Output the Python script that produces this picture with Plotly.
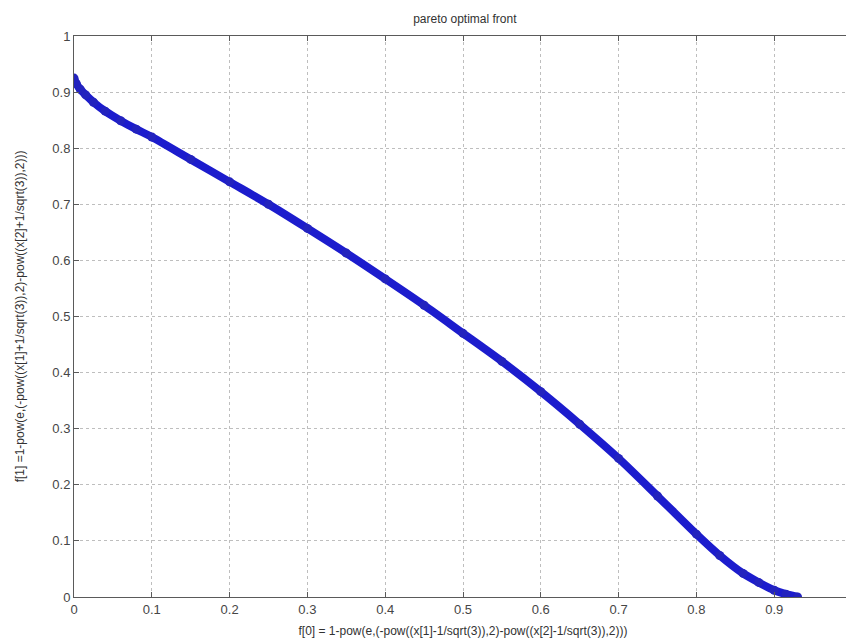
import plotly.graph_objects as go

f0 = [0.0, 0.003, 0.008, 0.015, 0.025, 0.04, 0.06, 0.08, 0.1, 0.15, 0.2, 0.25, 0.3, 0.35,
      0.4, 0.45, 0.5, 0.55, 0.6, 0.65, 0.7, 0.75, 0.8, 0.83, 0.86, 0.88, 0.9, 0.915, 0.93]
f1 = [0.925, 0.915, 0.905, 0.895, 0.882, 0.866, 0.849, 0.834, 0.82, 0.78, 0.74, 0.70, 0.657, 0.613,
      0.567, 0.52, 0.47, 0.42, 0.366, 0.308, 0.247, 0.18, 0.112, 0.074, 0.042, 0.026, 0.012, 0.005, 0.0]

title_text = "pareto optimal front"
xlabel = "f[0] = 1-pow(e,(-pow((x[1]-1/sqrt(3)),2)-pow((x[2]-1/sqrt(3)),2)))"
ylabel = "f[1] =1-pow(e,(-pow((x[1]+1/sqrt(3)),2)-pow((x[2]+1/sqrt(3)),2)))"
ticks = [0, 0.1, 0.2, 0.3, 0.4, 0.5, 0.6, 0.7, 0.8, 0.9, 1]
tick_labels = ["0", "0.1", "0.2", "0.3", "0.4", "0.5", "0.6", "0.7", "0.8", "0.9", "1"]

fig = go.Figure()
fig.add_trace(go.Scatter(
    x=f0, y=f1, mode="lines+markers",
    line=dict(color="rgb(28,28,205)", width=8, shape="spline", smoothing=0.8),
    marker=dict(color="rgb(35,35,190)", size=9),
    showlegend=False,
))

font = "Liberation Sans, Arial, sans-serif"
axis_common = dict(
    range=[0, 1], tickvals=ticks, ticktext=tick_labels, automargin=False,
    showgrid=True, gridcolor="rgb(190,190,190)", griddash="dot", gridwidth=1,
    showline=True, linecolor="rgb(90,90,90)", linewidth=1, mirror="ticks",
    ticks="inside", ticklen=5, tickcolor="rgb(90,90,90)",
    zeroline=False, tickfont=dict(family=font, size=13, color="rgb(70,70,70)"),
)
fig.update_xaxes(**axis_common, title=dict(text=xlabel, font=dict(family=font, size=12, color="rgb(50,50,50)"), standoff=11))
fig.update_yaxes(**axis_common, title=dict(text=ylabel, font=dict(family=font, size=12, color="rgb(50,50,50)"), standoff=25))

fig.update_layout(
    width=846, height=633,
    margin=dict(l=66, r=2, t=28, b=44),
    paper_bgcolor="white", plot_bgcolor="white",
    title=dict(text=title_text, x=0.54, xanchor="center", y=0.99, yanchor="top",
               font=dict(family=font, size=12, color="rgb(50,50,50)")),
)

fig.write_html("out.html")
